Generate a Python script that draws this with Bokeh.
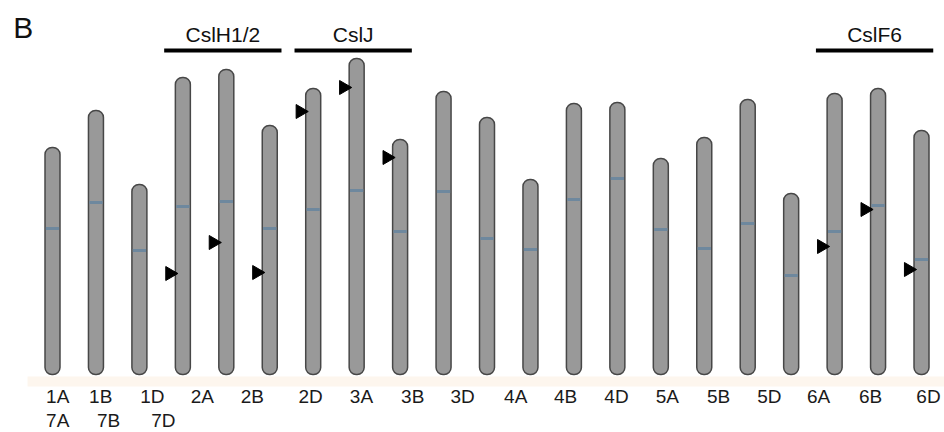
import numpy as np
from bokeh.plotting import figure
from bokeh.models import ColumnDataSource, BoxAnnotation
from bokeh.core.properties import value
from bokeh.embed import file_html
from bokeh.resources import INLINE

# ---- data ----
bar_index = list(range(21))
chrom_length = [227, 264, 190, 297, 305, 249, 286, 316, 235, 283, 257,
                195, 271, 272, 216, 237, 275, 181, 281, 286, 244]
centromere = [146, 172, 124, 168, 173, 146, 165, 184, 143, 183, 136,
              125, 175, 196, 145, 126, 151, 99, 143, 169, 115]

marker_bar = [3, 4, 5, 6, 7, 8, 18, 19, 20]
marker_pos = [101, 132, 102, 263, 287, 217, 128, 165, 105]

labels_row1 = ["1A", "1B", "1D", "2A", "2B", "2D", "3A", "3B", "3D",
               "4A", "4B", "4D", "5A", "5B", "5D", "6A", "6B", "6D"]
labels_row1_x = [0.12, 1.11, 2.30, 3.45, 4.60, 5.94, 7.11, 8.29, 9.44,
                 10.66, 11.81, 12.98, 14.15, 15.33, 16.50, 17.63, 18.83, 20.16]
labels_row2 = ["7A", "7B", "7D"]
labels_row2_x = [0.12, 1.29, 2.55]

group_names = ["CslH1/2", "CslJ", "CslF6"]
group_first = [3, 6, 18]
group_last = [5, 8, 20]

# ---- styling constants ----
BAR_W = 0.345
FILL = "#999999"
EDGE = "#474747"
CEN = "#6e889e"
FONT = "Liberation Sans"

p = figure(width=944, height=432, output_backend="svg", toolbar_location=None,
           x_range=(-1.1968, 20.529), y_range=(-58, 374), min_border=0)
p.axis.visible = False
p.grid.visible = False
p.outline_line_color = None
p.background_fill_color = "white"
p.border_fill_color = "white"

p.add_layout(BoxAnnotation(top=-2, bottom=-12, left=-0.575,
                           fill_color="#fdf6ee", fill_alpha=1.0,
                           line_color=None, level="underlay"))

bars = ColumnDataSource(dict(x=bar_index, top=chrom_length, cen=centromere))
p.vbar(x="x", top="top", bottom=0, width=BAR_W, source=bars,
       fill_color=FILL, line_color=EDGE, line_width=1.5, border_radius=7)
p.rect(x="x", y="cen", width=BAR_W - 0.04, height=3, height_units="screen",
       source=bars, fill_color=CEN, line_color=None)

mk = ColumnDataSource(dict(x=[b - 0.30 for b in marker_bar], y=marker_pos))
p.scatter(x="x", y="y", source=mk, marker="triangle", size=14,
          angle=-np.pi / 2, fill_color="black", line_color="black")

# group bars
gx0 = [f - 0.43 for f in group_first]
gx1 = [l + 0.27 for l in group_last]
gsrc = ColumnDataSource(dict(x0=gx0, x1=gx1, y=[324] * 3,
                             xm=[(a + b) / 2 for a, b in zip(gx0, gx1)],
                             name=group_names))
p.segment(x0="x0", x1="x1", y0="y", y1="y", source=gsrc,
          line_color="black", line_width=4)
p.text(x="xm", y=340, text="name", source=gsrc, text_align="center",
       text_baseline="alphabetic", text_font=value(FONT),
       text_font_size="21px", text_color="#111111")

# chromosome labels
p.text(x=labels_row1_x, y=[-22] * len(labels_row1), text=labels_row1,
       text_align="center", text_baseline="alphabetic",
       text_font=value(FONT), text_font_size="19px", text_color="#1a1a1a")
p.text(x=labels_row2_x, y=[-46] * len(labels_row2), text=labels_row2,
       text_align="center", text_baseline="alphabetic",
       text_font=value(FONT), text_font_size="19px", text_color="#1a1a1a")

# panel letter
p.text(x=[-0.905], y=[347], text=["B"], text_align="left",
       text_baseline="alphabetic", text_font=value(FONT),
       text_font_size="30px", text_color="#111111")

open("out.html", "w").write(file_html(p, INLINE))
